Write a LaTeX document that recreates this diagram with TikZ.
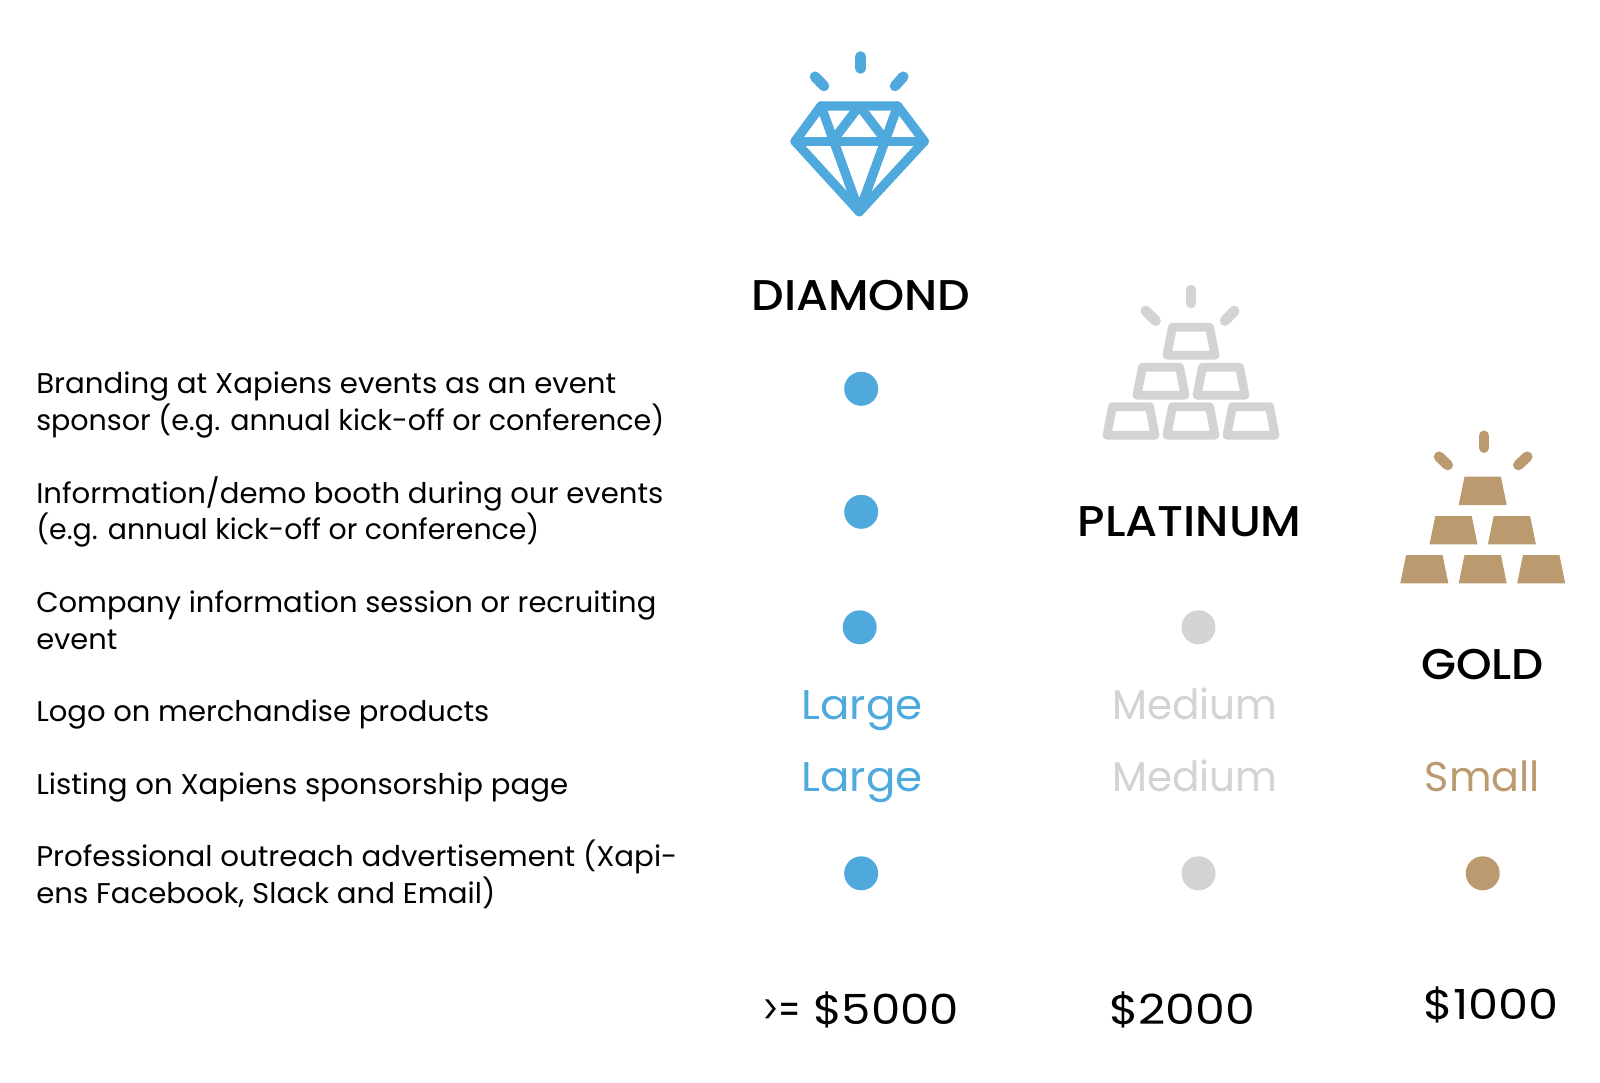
\documentclass[tikz,border=0pt]{standalone}
\usepackage{graphicx}
\usepackage{fontspec}
\setmainfont{Poppins}
\newfontfamily\headfont{Poppins Medium}
\definecolor{dia}{HTML}{50A9DD}
\definecolor{pla}{HTML}{D1D3D4}
\definecolor{gol}{HTML}{BC9A6F}
\newcommand{\fitw}[2]{\resizebox{#1pt}{\height}{#2}}
\tikzset{
  txt/.style={anchor=base west,inner sep=0pt,outer sep=0pt,text=black},
  row/.style={txt,font=\fontsize{28.5}{30}\selectfont},
  big/.style={txt,font=\fontsize{41.5}{44}\selectfont},
  head/.style={txt,font=\headfont\fontsize{43}{46}\selectfont},
  dot/.style={circle,fill=#1,minimum size=34pt,inner sep=0pt,draw=none},
  spark/.style={draw=#1,line width=10.5pt,line cap=round},
  gem/.style={draw=dia,line width=9.3pt,line join=round,line cap=round},
  barline/.style={draw=pla,line width=8.8pt,line join=round},
  barfill/.style={fill=gol,draw=none}
}
\newcommand{\platbar}[3]{\draw[barline] (#1-18.6,#2) -- (#1+18.6,#2) -- (#1+24,#3) -- (#1-24,#3) -- cycle;}
\newcommand{\goldbar}[2]{\fill[barfill] (#1-18.2,#2) -- (#1+18.2,#2) -- (#1+24,#2+28.3) -- (#1-24,#2+28.3) -- cycle;}
\begin{document}
\begin{tikzpicture}[x=1pt,y=-1pt]
\useasboundingbox (0,0) rectangle (1600,1082);
\fill[white] (0,0) rectangle (1600,1082);
% diamond icon
\draw[spark=dia] (860.7,56.5) -- (860.7,68.5);
\draw[spark=dia] (815,76.7) -- (824,86);
\draw[spark=dia] (903.3,76.7) -- (895,86);
\draw[gem] (821,106) -- (897.7,106) -- (924.3,141.3) -- (859.3,211.7) -- (795,141.3) -- cycle;
\draw[gem] (795,141.3) -- (924.3,141.3);
\draw[gem] (821,106) -- (859.3,211.7) -- (897.7,106);
\draw[gem] (832.3,141.3) -- (859.3,106) -- (886.3,141.3);
% platinum icon
\draw[spark=pla] (1191,290) -- (1191,303);
\draw[spark=pla] (1145.7,311) -- (1155.7,320.7);
\draw[spark=pla] (1234.3,311) -- (1225,320.7);
\platbar{1191}{327.3}{355.3}
\platbar{1161}{367.3}{395.3}
\platbar{1221}{367.3}{395.3}
\platbar{1131}{406.7}{435.3}
\platbar{1191}{406.7}{435.3}
\platbar{1251}{406.7}{435.3}
% gold icon
\draw[spark=gol] (1484,435.7) -- (1484,447.7);
\draw[spark=gol] (1439,456.7) -- (1447.7,465);
\draw[spark=gol] (1527.3,456.7) -- (1518.3,465);
\goldbar{1482.7}{476.7}
\goldbar{1453.5}{516}
\goldbar{1511.9}{516}
\goldbar{1424.3}{555}
\goldbar{1482.7}{555}
\goldbar{1541.2}{555}
% headings
\node[head] (hdia) at (751.5,310) {\fitw{219}{DIAMOND}};
\node[head] (hpla) at (1077.6,536.7) {\fitw{224}{PLATINUM}};
\node[head] (hgol) at (1421.5,679.6) {\fitw{122.5}{GOLD}};
% rows
\node[row] (r1a) at (36.3,393.2) {\fitw{580}{Branding at Xapiens events as an event}};
\node[row] (r1b) at (36.3,430) {\fitw{628}{sponsor (e.g. annual kick-off or conference)}};
\node[row] (r2a) at (36.3,503) {\fitw{627}{Information/demo booth during our events}};
\node[row] (r2b) at (36.3,539.3) {\fitw{503}{(e.g. annual kick-off or conference)}};
\node[row] (r3a) at (36.3,612.2) {\fitw{620}{Company information session or recruiting}};
\node[row] (r3b) at (36.3,649) {\fitw{81}{event}};
\node[row] (r4) at (36.3,721.2) {\fitw{453}{Logo on merchandise products}};
\node[row] (r5) at (36.3,794) {\fitw{532}{Listing on Xapiens sponsorship page}};
\node[row] (r6a) at (36.3,866.6) {\fitw{641}{Professional outreach advertisement (Xapi-}};
\node[row] (r6b) at (36.3,903.7) {\fitw{459}{ens Facebook, Slack and Email)}};
% dots
\node[dot=dia] (d1) at (861.2,388.8) {};
\node[dot=dia] (d2) at (861.2,511.8) {};
\node[dot=dia] (d3) at (859.7,627.3) {};
\node[dot=pla] (p3) at (1198.5,627.3) {};
\node[dot=dia] (d6) at (861.2,873.3) {};
\node[dot=pla] (p6) at (1198.5,873.3) {};
\node[dot=gol] (g6) at (1482.7,873.3) {};
% size labels
\node[big,text=dia] (l1) at (801.7,719.7) {\fitw{121}{Large}};
\node[big,text=dia] (l2) at (801.7,791.7) {\fitw{121}{Large}};
\node[big,text=pla] (m1) at (1112.2,719.7) {\fitw{165}{Medium}};
\node[big,text=pla] (m2) at (1112.2,791.7) {\fitw{165}{Medium}};
\node[big,text=gol] (s2) at (1424.8,791.7) {\fitw{115}{Small}};
% prices
\node[big] (c1) at (762,1024.3) {\fitw{39}{>=}\kern12pt\fitw{146}{\$5000}};
\node[big] (c2) at (1109,1024.3) {\fitw{146}{\$2000}};
\node[big] (c3) at (1423.7,1019.7) {\fitw{135}{\$1000}};
\end{tikzpicture}
\end{document}
